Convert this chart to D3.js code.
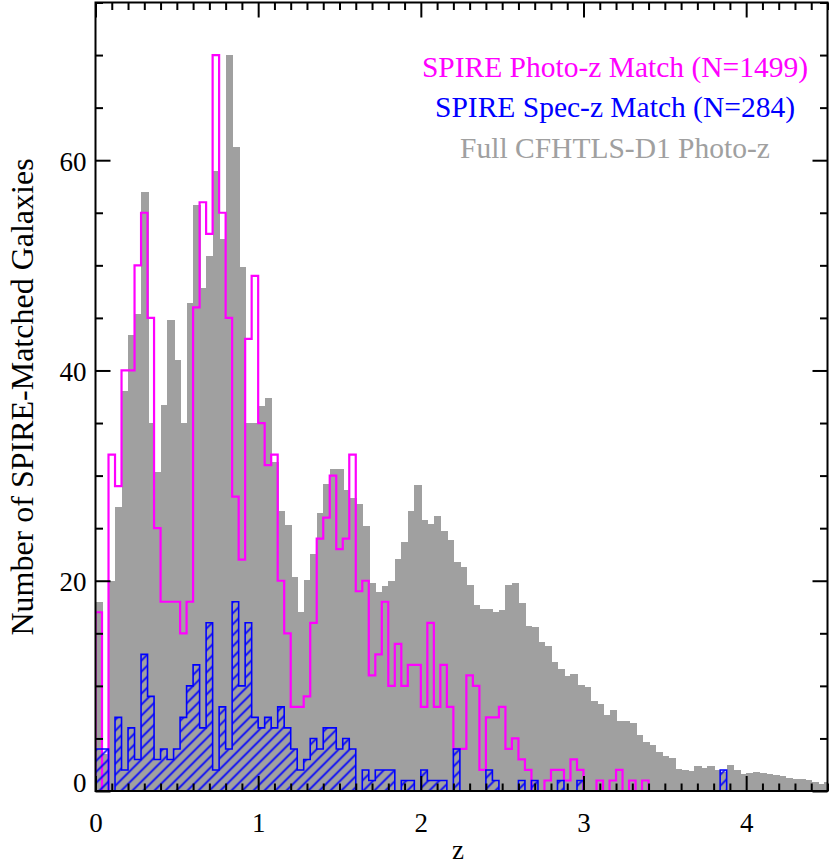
<!DOCTYPE html>
<html>
<head>
<meta charset="utf-8">
<title>SPIRE-matched galaxies redshift histogram</title>
<style>
  body { margin: 0; background: #fff; }
  svg { display: block; font-family: "Liberation Serif", "Times New Roman", serif; }
  .frame { fill: none; stroke: #000; stroke-width: 2; }
  .bar { shape-rendering: crispEdges; }
  .axis path { display: none; }
  .axis line { stroke: #000; stroke-width: 2; }
  .axis text { font-size: 27px; fill: #000; font-family: "Liberation Serif", serif; }
</style>
<script src="https://d3js.org/d3.v7.min.js"></script>
</head>
<body>
<svg width="830" height="867"></svg>
<script>
// histogram bin width in z
var binWidth = 0.04;

// Full CFHTLS-D1 photo-z (gray, scaled)
var fullPhotoZ = [
  18, 3.5, 20, 27, 38, 43.4, 45.4, 57, 35, 30.3,
  36.7, 44.8, 41, 35, 46.4, 55.7, 47.8, 50.9, 59, 52.5,
  70, 61.3, 49.8, 35, 35, 36.6, 37.4, 31.3, 26.6, 25.3,
  20.4, 17, 20.1, 22.5, 26.4, 29.2, 30.6, 30.6, 28.6, 27.9,
  27.3, 25.2, 19.8, 18.9, 19.5, 20, 22.1, 23.7, 26.6, 29.1,
  25.8, 25.4, 26.2, 24.7, 23.9, 21.8, 21.3, 19.6, 17.7, 17.3,
  17.3, 17.0, 17.2, 19.6, 19.8, 17.9, 15.7, 15.6, 14.2, 13.8,
  12.3, 11.6, 10.9, 11.1, 10.1, 9.9, 8.6, 8.3, 7.2, 7.7,
  6.7, 6.7, 6.5, 5.3, 4.7, 4.4, 3.7, 3.3, 3.1, 2.1,
  2.0, 1.9, 2.4, 2.2, 2.4, 2.0, 1.8, 2.5, 2.0, 1.6,
  1.7, 1.8, 1.7, 1.6, 1.5, 1.4, 1.2, 1.1, 1.1, 1.0,
  0.9, 0.7, 0.9
];

// SPIRE photo-z match (magenta outline)
var spirePhotoZ = [
  17, 0, 32, 29, 40, 40, 50, 55, 45, 25,
  18, 18, 18, 15, 18, 46, 56, 53, 70, 55,
  45, 28, 22, 43, 49, 35, 31, 32, 20, 15,
  8, 8, 9, 16, 24, 26, 30, 23, 24, 32,
  19, 20, 11, 13, 18, 10, 14, 10, 12, 12,
  8, 16, 8, 12, 8, 4, 4, 11, 10, 2,
  7, 7, 8, 4, 5, 3, 2, 0, 0, 1,
  2, 2, 1, 3, 2, 0, 0, 1, 0, 1,
  2, 0, 1, 0, 1
];

// SPIRE spec-z match (blue hatched)
var spireSpecZ = [
  4, 4, 0, 7, 2, 6, 3, 13, 9, 3,
  4, 3, 4, 7, 10, 12, 6, 16, 2, 8,
  4, 18, 10, 16, 7, 6, 7, 6, 8, 6,
  4, 2, 3, 5, 4, 6, 6, 4, 5, 4,
  0, 2, 1, 2, 2, 2, 0, 1, 1, 0,
  2, 1, 1, 1, 0, 4, 0, 0, 0, 0,
  2, 1, 0, 0, 0, 1, 0, 1, 0, 0,
  0, 1, 0, 0, 1, 0, 0, 0, 0, 0,
  0, 0, 0, 0, 0, 0, 0, 0, 0, 0,
  0, 0, 0, 0, 0, 0, 2
];

var xTicks = [0, 1, 2, 3, 4];
var yTicks = [0, 20, 40, 60];
var legendLabels = ["SPIRE Photo-z Match (N=1499)", "SPIRE Spec-z Match (N=284)", "Full CFHTLS-D1 Photo-z"];
var legendColors = ["#ff00ff", "#0000ff", "#a0a0a0"];

var svg = d3.select("svg"),
    margin = {top: 2.5, right: 2.5, bottom: 76, left: 95.5},
    width = +svg.attr("width") - margin.left - margin.right,
    height = +svg.attr("height") - margin.top - margin.bottom;

var x = d3.scaleLinear().domain([0, 4.5]).range([0, width]),
    y = d3.scaleLinear().domain([0, 75]).range([height, 0]);

var g = svg.append("g")
    .attr("transform", "translate(" + margin.left + "," + margin.top + ")");

var defs = svg.append("defs");
defs.append("clipPath").attr("id", "plot-clip")
  .append("rect").attr("width", width).attr("height", height);

// diagonal hatch for the spec-z histogram
defs.append("pattern")
    .attr("id", "hatch")
    .attr("patternUnits", "userSpaceOnUse")
    .attr("width", 11).attr("height", 11)
  .append("path")
    .attr("d", "M-2,2 L2,-2 M0,11 L11,0 M9,13 L13,9")
    .attr("stroke", "#0000ff")
    .attr("stroke-width", 1.7);

var plot = g.append("g").attr("clip-path", "url(#plot-clip)");

// gray bars
plot.selectAll(".bar")
  .data(fullPhotoZ)
  .enter().append("rect")
    .attr("class", "bar")
    .attr("x", function(d, i) { return x(i * binWidth); })
    .attr("width", function(d, i) { return x(Math.min((i + 1) * binWidth, 4.5)) - x(i * binWidth) + 1; })
    .attr("y", function(d) { return y(d); })
    .attr("height", function(d) { return height - y(d); })
    .attr("fill", "#a0a0a0");

function stepPoints(vals) {
  var pts = [[0, 0]];
  vals.forEach(function(v, i) { pts.push([i * binWidth, v]); });
  pts.push([vals.length * binWidth, vals[vals.length - 1]]);
  pts.push([vals.length * binWidth, 0]);
  return pts;
}

var step = d3.line()
    .x(function(d) { return x(d[0]); })
    .y(function(d) { return y(d[1]); })
    .curve(d3.curveStepAfter);

plot.append("path")
    .attr("d", step(stepPoints(spirePhotoZ)))
    .attr("fill", "none")
    .attr("stroke", "#ff00ff")
    .attr("stroke-width", 2.2);

plot.append("path")
    .attr("d", step(stepPoints(spireSpecZ)) + "Z")
    .attr("fill", "url(#hatch)")
    .attr("stroke", "#0000ff")
    .attr("stroke-width", 1.6);

// axes: major + minor ticks, all pointing inward
var xMinor = d3.range(0, 4.51, 0.1).filter(function(v) { return Math.abs(v - Math.round(v)) > 1e-6; });
var yMinor = d3.range(0, 75.1, 5).filter(function(v) { return v % 20 !== 0; });

g.append("g").attr("class", "axis")
    .attr("transform", "translate(0," + height + ")")
    .call(d3.axisBottom(x).tickValues(xTicks).tickSize(-15).tickPadding(22).tickFormat(d3.format("d")));
g.append("g").attr("class", "axis")
    .attr("transform", "translate(0," + height + ")")
    .call(d3.axisBottom(x).tickValues(xMinor).tickSize(-7.5).tickFormat(""));
g.append("g").attr("class", "axis")
    .call(d3.axisTop(x).tickValues(xTicks).tickSize(-15).tickFormat(""));
g.append("g").attr("class", "axis")
    .call(d3.axisTop(x).tickValues(xMinor).tickSize(-7.5).tickFormat(""));

var yAxis = g.append("g").attr("class", "axis")
    .call(d3.axisLeft(y).tickValues(yTicks).tickSize(-15).tickPadding(9).tickFormat(d3.format("d")));
yAxis.selectAll("text").attr("dy", function(d) { return d === 0 ? "0.02em" : "0.38em"; });
g.append("g").attr("class", "axis")
    .call(d3.axisLeft(y).tickValues(yMinor).tickSize(-7.5).tickFormat(""));
g.append("g").attr("class", "axis")
    .attr("transform", "translate(" + width + ",0)")
    .call(d3.axisRight(y).tickValues(yTicks).tickSize(-15).tickFormat(""));
g.append("g").attr("class", "axis")
    .attr("transform", "translate(" + width + ",0)")
    .call(d3.axisRight(y).tickValues(yMinor).tickSize(-7.5).tickFormat(""));

g.append("rect")
    .attr("class", "frame")
    .attr("width", width)
    .attr("height", height);

// axis titles
svg.append("text")
    .attr("x", 458).attr("y", 859)
    .attr("text-anchor", "middle")
    .style("font-size", "27px")
    .text("z");

svg.append("text")
    .attr("transform", "translate(33,397) rotate(-90)")
    .attr("text-anchor", "middle")
    .style("font-size", "32px")
    .text("Number of SPIRE-Matched Galaxies");

// legend
svg.selectAll(".legend")
  .data(legendLabels)
  .enter().append("text")
    .attr("class", "legend")
    .attr("x", 615)
    .attr("y", function(d, i) { return [77, 117, 158][i]; })
    .attr("text-anchor", "middle")
    .attr("fill", function(d, i) { return legendColors[i]; })
    .style("font-size", "29.5px")
    .text(function(d) { return d; });
</script>
</body>
</html>
